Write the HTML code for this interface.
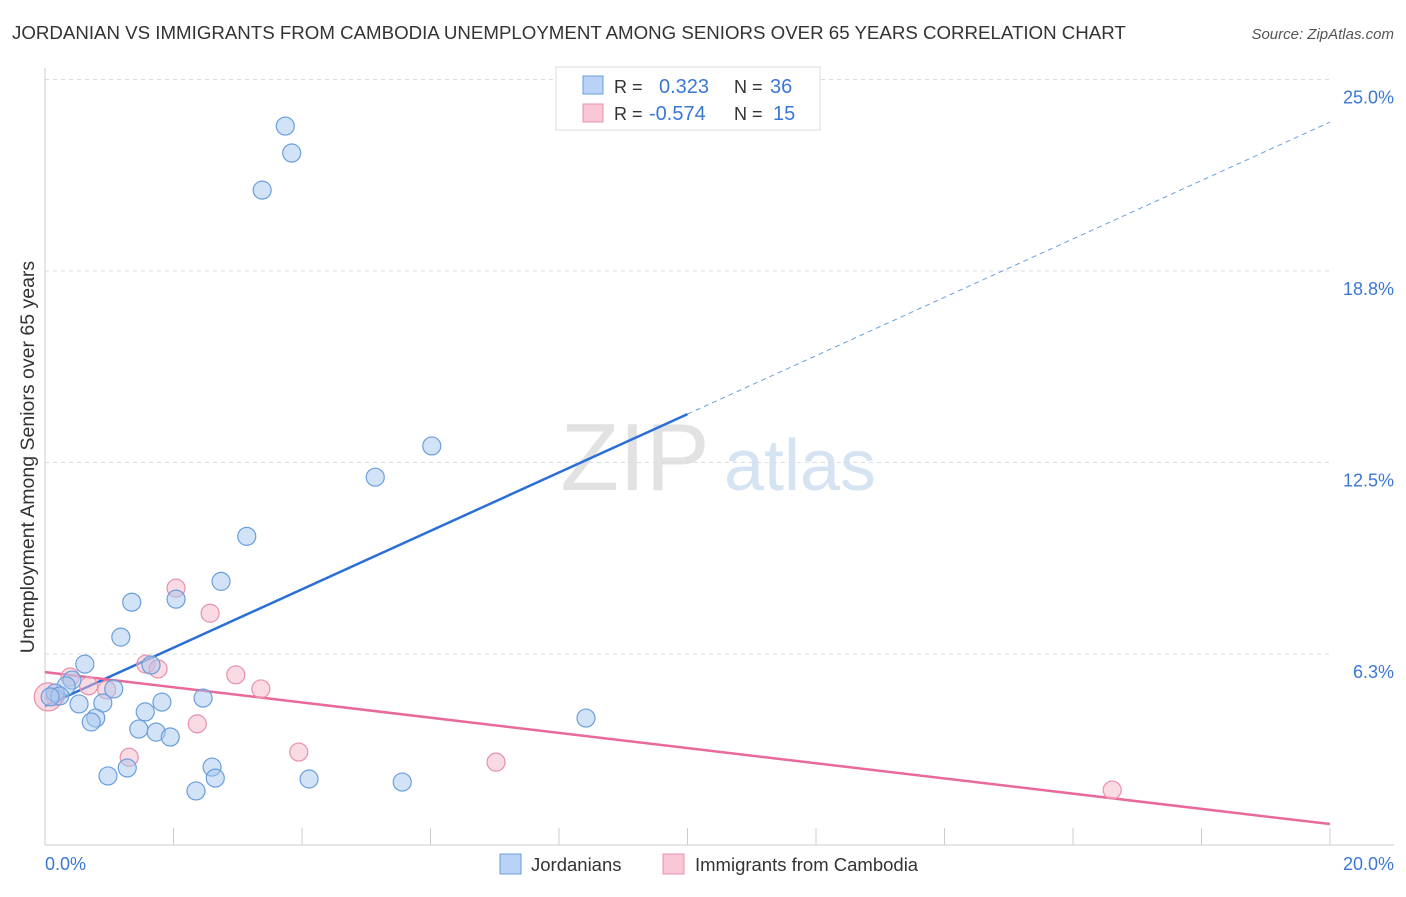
<!DOCTYPE html>
<html><head><meta charset="utf-8"><style>
body{margin:0;background:#fff;font-family:"Liberation Sans",sans-serif;}
svg text{font-family:"Liberation Sans",sans-serif;}
</style></head><body>
<svg id="chart" width="1406" height="892">
<text x="12" y="39" font-size="18.7" fill="#333">JORDANIAN VS IMMIGRANTS FROM CAMBODIA UNEMPLOYMENT AMONG SENIORS OVER 65 YEARS CORRELATION CHART</text>
<text x="1394" y="39" font-size="15" fill="#555" font-style="italic" text-anchor="end">Source: ZipAtlas.com</text>
<g>
<text x="635" y="490" font-size="96" fill="#e2e2e2" font-family="Liberation Serif" text-anchor="middle">ZIP</text>
<text x="800" y="490" font-size="72" fill="#d6e3f3" text-anchor="middle">atlas</text>
</g>
<g id="grid"></g><g id="axes"></g><g id="lines"></g><g id="pts"></g>
<text transform="translate(34,457) rotate(-90)" font-size="19.5" fill="#333" text-anchor="middle">Unemployment Among Seniors over 65 years</text>
<text x="45" y="870" font-size="18" fill="#3a78d4">0.0%</text>
<text x="1394" y="870" font-size="18" fill="#3a78d4" text-anchor="end">20.0%</text>
<g>
<rect x="556" y="67" width="264" height="63" fill="#fff" stroke="#ddd"/>
<rect x="583" y="76" width="20" height="18" fill="#b8d3f5" stroke="#6a9fdc"/>
<rect x="583" y="104" width="20" height="18" fill="#f9c6d5" stroke="#e890ad"/>
<text x="614" y="93" font-size="18" fill="#333">R = </text><text x="659" y="93" font-size="20" fill="#3a78d4">0.323</text>
<text x="734" y="93" font-size="18" fill="#333">N = </text><text x="770" y="93" font-size="20" fill="#3a78d4">36</text>
<text x="614" y="120" font-size="18" fill="#333">R = </text><text x="649" y="120" font-size="20" fill="#3a78d4">-0.574</text>
<text x="734" y="120" font-size="18" fill="#333">N = </text><text x="773" y="120" font-size="20" fill="#3a78d4">15</text>
</g>
<g>
<rect x="500" y="854" width="21" height="20" fill="#b8d3f5" stroke="#6a9fdc"/>
<text x="531" y="871" font-size="18.5" fill="#333">Jordanians</text>
<rect x="663" y="854" width="21" height="20" fill="#f9c6d5" stroke="#e890ad"/>
<text x="695" y="871" font-size="18.5" fill="#333">Immigrants from Cambodia</text>
</g>
</svg>
<script>
const yTicks=[6.25,12.5,18.75,25];
const yTickLabels=["6.3%","12.5%","18.8%","25.0%"];
const xTicks=[0,2,4,6,8,10,12,14,16,18,20];
const blueX=[3.74,3.84,3.38,6.02,5.14,3.14,2.74,1.35,2.04,1.18,0.62,1.65,0.42,0.33,1.07,0.16,0.23,0.08,2.46,1.82,0.90,0.53,1.56,0.79,0.72,8.42,1.46,1.73,1.95,2.60,1.28,0.98,2.65,4.11,5.56,2.35];
const blueY=[23.48,22.60,21.39,13.04,12.02,10.09,8.62,7.94,8.04,6.80,5.92,5.89,5.40,5.21,5.11,4.98,4.88,4.85,4.81,4.68,4.65,4.62,4.36,4.16,4.03,4.16,3.80,3.70,3.54,2.56,2.53,2.27,2.20,2.17,2.07,1.78];
const pinkX=[2.04,2.57,1.57,1.76,0.39,2.97,0.68,0.96,3.36,0.16,2.37,3.95,1.31,7.02,16.61,0.05];
const pinkY=[8.40,7.58,5.92,5.76,5.50,5.57,5.21,5.08,5.11,4.85,3.97,3.05,2.88,2.72,1.81,4.85];
const blueFit=[4.55,14.08,23.61];
const pinkFit=[5.66,0.70];
const NS="http://www.w3.org/2000/svg";
const X=v=>45+v/20*1285, Y=v=>845.5-v*30.64;
function mk(p,t,a){const e=document.createElementNS(NS,t);for(const k in a)e.setAttribute(k,a[k]);document.getElementById(p).appendChild(e);return e;}
yTicks.forEach((t,i)=>{
 const g=mk('grid','line',{x1:45,x2:1330,y1:Y(t),y2:Y(t),stroke:'#ddd','stroke-dasharray':'4,4'});
 
 
 const l=mk('grid','text',{x:1394,y:Y(t)+24,'font-size':18,fill:'#3a78d4','text-anchor':'end'});l.textContent=yTickLabels[i];
 
 
});
mk('axes','line',{x1:45,x2:45,y1:68,y2:845,stroke:'#ccc'});
mk('axes','line',{x1:45,x2:1394,y1:845,y2:845,stroke:'#ccc'});
xTicks.forEach(t=>{const e=mk('axes','line',{x1:X(t),x2:X(t),y1:828,y2:845,stroke:'#ccc'});
 
 });
function pts(xs,ys,fill,stroke,name){xs.forEach((x,i)=>{const c=mk('pts','circle',{cx:X(x),cy:Y(ys[i]),r:i==15&&name=='pink-point'?14:9,fill:fill,'fill-opacity':0.5,stroke:stroke,'stroke-width':1.2});
 
 });}
pts(pinkX,pinkY,'#f5b6c8','#e890ad','pink-point');
pts(blueX,blueY,'#a8c8f0','#6a9fdc','blue-point');
const b1=mk('lines','line',{x1:X(0),y1:Y(blueFit[0]),x2:X(10),y2:Y(blueFit[1]),stroke:'#2a6fd6','stroke-width':2.5});


const b2=mk('lines','line',{x1:X(10),y1:Y(blueFit[1]),x2:X(20),y2:Y(blueFit[2]),stroke:'#6a9fdc','stroke-width':1,'stroke-dasharray':'5,4'});


const p1=mk('lines','line',{x1:X(0),y1:Y(pinkFit[0]),x2:X(20),y2:Y(pinkFit[1]),stroke:'#e8699a','stroke-width':2.5});


</script>
</body></html>
